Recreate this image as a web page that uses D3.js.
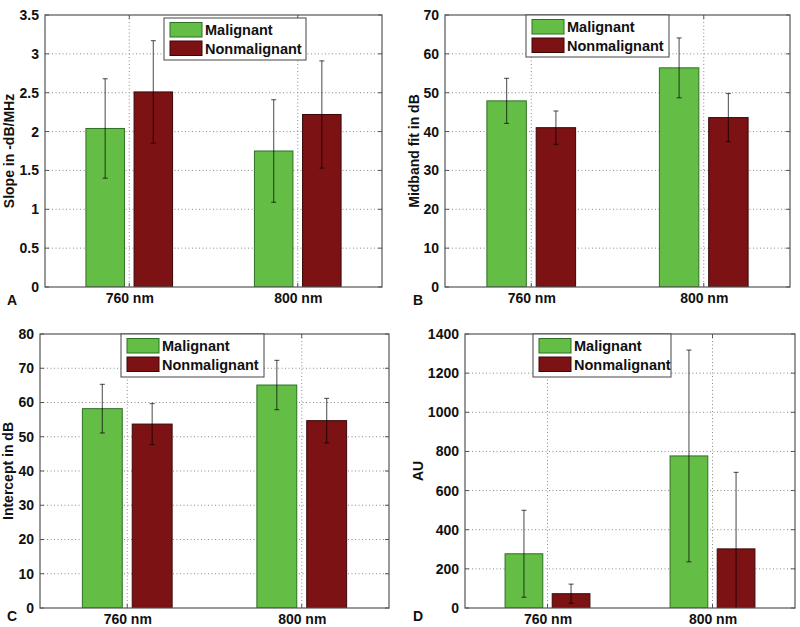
<!DOCTYPE html>
<html>
<head>
<meta charset="utf-8">
<script src="https://cdn.jsdelivr.net/npm/d3@7/dist/d3.min.js"></script>
<style>
  html, body { margin: 0; padding: 0; background: #fff; }
  svg { display: block; font-family: "Liberation Sans", Arial, sans-serif; font-weight: bold; }
</style>
</head>
<body>
<svg id="chart" width="800" height="627"></svg>
<script>
// ---- data ----
const categories = ["760 nm", "800 nm"];
const seriesNames = ["Malignant", "Nonmalignant"];
const panelLetters = ["A", "B", "C", "D"];
const yLabels = ["Slope in -dB/MHz", "Midband fit in dB", "Intercept in dB", "AU"];

// Panel A: slope
const slopeMalignant = [2.04, 1.75];
const slopeMalignantErr = [0.64, 0.66];
const slopeNonmalignant = [2.51, 2.22];
const slopeNonmalignantErr = [0.66, 0.69];
const slopeTicks = [0, 0.5, 1, 1.5, 2, 2.5, 3, 3.5];

// Panel B: midband fit
const midMalignant = [47.9, 56.4];
const midMalignantErr = [5.8, 7.7];
const midNonmalignant = [41.0, 43.6];
const midNonmalignantErr = [4.3, 6.2];
const midTicks = [0, 10, 20, 30, 40, 50, 60, 70];

// Panel C: intercept
const intMalignant = [58.2, 65.1];
const intMalignantErr = [7.1, 7.2];
const intNonmalignant = [53.7, 54.7];
const intNonmalignantErr = [6.0, 6.5];
const intTicks = [0, 10, 20, 30, 40, 50, 60, 70, 80];

// Panel D: AU
const auMalignant = [277, 777];
const auMalignantErr = [222, 541];
const auNonmalignant = [73, 302];
const auNonmalignantErr = [49, 391];
const auTicks = [0, 200, 400, 600, 800, 1000, 1200, 1400];

const colors = ["#64be46", "#7d1214"];
const edgeColors = ["#2f6e25", "#3a0708"];

const panels = [
  { vals: [slopeMalignant, slopeNonmalignant], errs: [slopeMalignantErr, slopeNonmalignantErr], ticks: slopeTicks,
    box: { l: 45, r: 382, t: 15, b: 287 }, legend: { x: 164, y: 18, w: 142, h: 42 }, ylabX: 9, letter: { x: 7, y: 305 } },
  { vals: [midMalignant, midNonmalignant], errs: [midMalignantErr, midNonmalignantErr], ticks: midTicks,
    box: { l: 445, r: 790, t: 15, b: 287 }, legend: { x: 526, y: 15, w: 143, h: 42 }, ylabX: 414, letter: { x: 413, y: 305 } },
  { vals: [intMalignant, intNonmalignant], errs: [intMalignantErr, intNonmalignantErr], ticks: intTicks,
    box: { l: 40, r: 389, t: 334, b: 608 }, legend: { x: 121, y: 334, w: 143, h: 43 }, ylabX: 8, letter: { x: 7, y: 621 } },
  { vals: [auMalignant, auNonmalignant], errs: [auMalignantErr, auNonmalignantErr], ticks: auTicks,
    box: { l: 465, r: 795, t: 334, b: 608 }, legend: { x: 533, y: 334, w: 138, h: 43 }, ylabX: 418, letter: { x: 413, y: 621 } }
];

const svg = d3.select("#chart");

panels.forEach((p, pi) => {
  const B = p.box;
  const x = d3.scaleLinear().domain([0.5, 2.5]).range([B.l, B.r]);
  const y = d3.scaleLinear().domain([0, d3.max(p.ticks)]).range([B.b, B.t]);
  const g = svg.append("g");

  const clipId = "clip" + pi;
  svg.append("clipPath").attr("id", clipId).append("rect")
    .attr("x", B.l).attr("y", B.t).attr("width", B.r - B.l).attr("height", B.b - B.t);

  // grid lines (horizontal)
  g.selectAll(".hg").data(p.ticks.slice(1, -1)).enter().append("line")
    .attr("x1", B.l).attr("x2", B.r).attr("y1", d => y(d)).attr("y2", d => y(d))
    .attr("stroke", "#8a8a8a").attr("stroke-width", 1).attr("stroke-dasharray", "1,2.5");
  // grid lines (vertical) at categories
  g.selectAll(".vg").data(categories).enter().append("line")
    .attr("x1", (d, i) => x(i + 1)).attr("x2", (d, i) => x(i + 1)).attr("y1", B.t).attr("y2", B.b)
    .attr("stroke", "#8a8a8a").attr("stroke-width", 1).attr("stroke-dasharray", "1,2.5");

  // bars
  const groupWidth = 2 / 3.5;
  const barW = groupWidth / 2 * 0.8;
  const offsets = [-groupWidth / 4, groupWidth / 4];
  const plot = g.append("g").attr("clip-path", `url(#${clipId})`);
  seriesNames.forEach((s, si) => {
    plot.selectAll(".bar" + si).data(p.vals[si]).enter().append("rect")
      .attr("x", (d, i) => x(i + 1 + offsets[si] - barW / 2))
      .attr("width", x(barW) - x(0))
      .attr("y", d => y(d))
      .attr("height", d => y(0) - y(d))
      .attr("fill", colors[si]).attr("stroke", edgeColors[si]).attr("stroke-width", 1);
  });
  // error bars
  seriesNames.forEach((s, si) => {
    p.vals[si].forEach((v, i) => {
      const e = p.errs[si][i];
      const cx = x(i + 1 + offsets[si]);
      const eg = plot.append("g").attr("stroke", "#000").attr("stroke-opacity", 0.6).attr("stroke-width", 1.2);
      eg.append("line").attr("x1", cx).attr("x2", cx).attr("y1", y(v - e)).attr("y2", y(v + e));
      eg.append("line").attr("x1", cx - 2.5).attr("x2", cx + 2.5).attr("y1", y(v + e)).attr("y2", y(v + e));
      eg.append("line").attr("x1", cx - 2.5).attr("x2", cx + 2.5).attr("y1", y(v - e)).attr("y2", y(v - e));
    });
  });

  // axes with inward ticks
  const yAxisL = d3.axisLeft(y).tickValues(p.ticks).tickSize(0).tickPadding(6).tickFormat(d3.format("~g"));
  const ya = g.append("g").attr("transform", `translate(${B.l},0)`).call(yAxisL);
  ya.select(".domain").remove();
  ya.selectAll("text").attr("font-size", 14).attr("font-weight", "bold").attr("fill", "#111")
    .attr("font-family", "Liberation Sans, Arial, sans-serif");

  const xAxisB = d3.axisBottom(x).tickValues([1, 2]).tickSize(0).tickPadding(6).tickFormat((d) => categories[d - 1]);
  const xa = g.append("g").attr("transform", `translate(0,${B.b})`).call(xAxisB);
  xa.select(".domain").remove();
  xa.selectAll("text").attr("font-size", 14).attr("font-weight", "bold").attr("fill", "#111")
    .attr("font-family", "Liberation Sans, Arial, sans-serif");

  // inward tick marks
  const tk = g.append("g").attr("stroke", "#555").attr("stroke-width", 1);
  p.ticks.forEach(t => {
    tk.append("line").attr("x1", B.l).attr("x2", B.l + 4).attr("y1", y(t)).attr("y2", y(t));
    tk.append("line").attr("x1", B.r).attr("x2", B.r - 4).attr("y1", y(t)).attr("y2", y(t));
  });
  [1, 2].forEach(c => {
    tk.append("line").attr("x1", x(c)).attr("x2", x(c)).attr("y1", B.b).attr("y2", B.b - 4);
    tk.append("line").attr("x1", x(c)).attr("x2", x(c)).attr("y1", B.t).attr("y2", B.t + 4);
  });

  // box
  g.append("rect").attr("x", B.l).attr("y", B.t).attr("width", B.r - B.l).attr("height", B.b - B.t)
    .attr("fill", "none").attr("stroke", "#555").attr("stroke-width", 1.2);

  // y label
  g.append("text")
    .attr("transform", `translate(${p.ylabX},${(B.t + B.b) / 2}) rotate(-90)`)
    .attr("text-anchor", "middle").attr("dominant-baseline", "central")
    .attr("font-size", 14).attr("fill", "#111").text(yLabels[pi]);

  // panel letter
  g.append("text").attr("x", p.letter.x).attr("y", p.letter.y)
    .attr("font-size", 14).attr("fill", "#111").text(panelLetters[pi]);

  // legend
  const L = p.legend;
  const lg = g.append("g");
  lg.append("rect").attr("x", L.x).attr("y", L.y).attr("width", L.w).attr("height", L.h)
    .attr("fill", "#fff").attr("stroke", "#444").attr("stroke-width", 1);
  seriesNames.forEach((s, si) => {
    const sy = L.y + 4.5 + si * 18.5;
    lg.append("rect").attr("x", L.x + 6).attr("y", sy).attr("width", 32).attr("height", 14.5)
      .attr("fill", colors[si]).attr("stroke", edgeColors[si]).attr("stroke-width", 1);
    lg.append("text").attr("x", L.x + 41).attr("y", sy + 12.5)
      .attr("font-size", 14.5).attr("fill", "#111").text(s);
  });
});
</script>
</body>
</html>
